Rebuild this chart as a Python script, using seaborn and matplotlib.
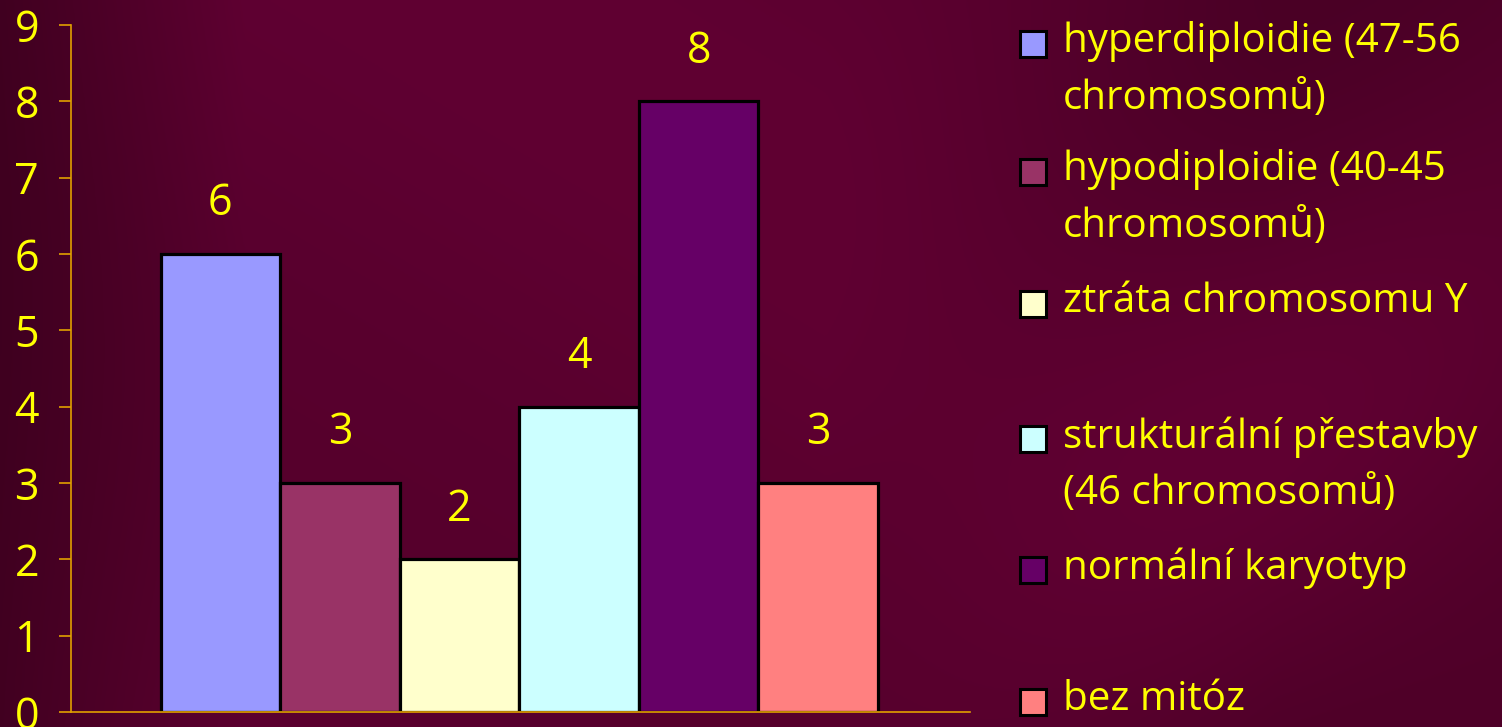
import numpy as np
import pandas as pd
import seaborn as sns
import matplotlib.pyplot as plt
from matplotlib.patches import Rectangle

# data
kategorie = ['hyperdiploidie (47-56\nchromosomů)',
             'hypodiploidie (40-45\nchromosomů)',
             'ztráta chromosomu Y',
             'strukturální přestavby\n(46 chromosomů)',
             'normální karyotyp',
             'bez mitóz']
pocty = [6, 3, 2, 4, 8, 3]
barvy = ['#9999FF', '#993366', '#FFFFCC', '#CCFFFF', '#660066', '#FF8080']
y_ticks = [0, 1, 2, 3, 4, 5, 6, 7, 8, 9]

df = pd.DataFrame({'kat': kategorie, 'pocet': pocty})

sns.set_style("white")
plt.rcParams['font.family'] = ['Open Sans', 'DejaVu Sans']
yellow = '#FFFF00'
gold = '#E0A000'
fs = 31

fig = plt.figure(figsize=(15.02, 7.27), dpi=100)

# background (dark maroon with soft darker bands)
bg = fig.add_axes([0, 0, 1, 1], zorder=-10)
xx, yy = np.meshgrid(np.linspace(0, 1, 600), np.linspace(0, 1, 300))
t = np.clip(0.35 + xx / 0.25, 0, 1)
band = 0.5 + 0.5 * np.sin(9 * (xx * 0.9 + yy * 0.6) + 1.0)
t = t * (1 - 0.35 * band * np.clip((xx - 0.55) / 0.3, 0, 1))
t = t * (0.9 + 0.1 * np.sin(5 * xx - 4 * yy))
c0 = np.array([0x32, 0x00, 0x18]) / 255
c1 = np.array([0x60, 0x00, 0x32]) / 255
img = c0[None, None, :] * (1 - t[..., None]) + c1[None, None, :] * t[..., None]
bg.imshow(img, aspect='auto', extent=[0, 1, 0, 1])
bg.axis('off')

ax = fig.add_axes([71 / 1502, 15 / 727, 899 / 1502, 687 / 727])
ax.patch.set_alpha(0)

sns.barplot(data=df, x='kat', y='pocet', hue='kat', palette=barvy, saturation=1,
            width=1, edgecolor='black', linewidth=2.3, legend=False, ax=ax)

for cont in ax.containers:
    ax.bar_label(cont, fmt='%d', padding=20, color=yellow, fontsize=fs)

ax.set_xlim(-1.25, 6.27)
ax.set_ylim(0, 9)
ax.set_yticks(y_ticks)
ax.set_xticks([])
ax.set_xlabel('')
ax.set_ylabel('')
ax.tick_params(axis='y', direction='out', length=9, width=1.2, color=gold,
               labelcolor=yellow, labelsize=fs, pad=14, left=True)
for s in ['top', 'right']:
    ax.spines[s].set_visible(False)
for s in ['left', 'bottom']:
    ax.spines[s].set_color(gold)
    ax.spines[s].set_linewidth(1.2)

# legend drawn by hand (uneven spacing like the original)
leg_y = [42, 170, 302, 437, 568, 700]
H = 727
for lab, col, yp in zip(kategorie, barvy, leg_y):
    fig.patches.append(Rectangle((1020 / 1502, (H - yp - 15) / H), 26 / 1502, 26 / H,
                                 transform=fig.transFigure, facecolor=col,
                                 edgecolor='black', linewidth=2.2))
    for i, line in enumerate(lab.split('\n')):
        fig.text(1063 / 1502, (H - yp - i * 57) / H, line, color=yellow,
                 fontsize=29, va='center', ha='left')

fig.savefig('out.png', dpi=100)
